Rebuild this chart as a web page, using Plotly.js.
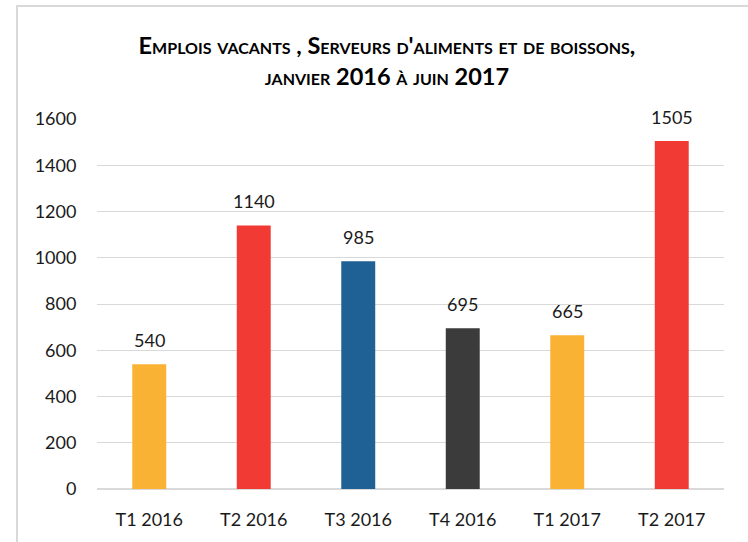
<!DOCTYPE html>
<html>
<head>
<meta charset="utf-8">
<script src="https://cdn.plot.ly/plotly-3.0.1.min.js"></script>
<style>html,body{margin:0;padding:0;background:#fff;}#chart{width:748px;height:542px;}</style>
</head>
<body>
<div id="chart"></div>
<script>
const categories = ['T1 2016', 'T2 2016', 'T3 2016', 'T4 2016', 'T1 2017', 'T2 2017'];
const values = [540, 1140, 985, 695, 665, 1505];
const barColors = ['#F9B233', '#F03A33', '#1F6195', '#3B3B3B', '#F9B233', '#F03A33'];
const yTicks = [0, 200, 400, 600, 800, 1000, 1200, 1400, 1600];
const titleText = "Emplois vacants , Serveurs d'aliments et de boissons,<br>janvier 2016 à juin 2017";

const FONT = 'Lato, "Open Sans", sans-serif';

const trace = {
  type: 'bar',
  x: categories,
  y: values,
  marker: {color: barColors},
  hoverinfo: 'none'
};

const annotations = categories.map((c, i) => ({
  x: c, y: values[i], xref: 'x', yref: 'y',
  text: String(values[i]), showarrow: false,
  yanchor: 'bottom', yshift: 11,
  font: {family: FONT, size: 18, color: '#1a1a1a'}
}));

const layout = {
  width: 748, height: 542,
  margin: {l: 97, r: 24, t: 119, b: 53},
  paper_bgcolor: '#fff', plot_bgcolor: '#fff',
  bargap: 0.675,
  showlegend: false,
  title: {
    text: titleText,
    x: 0.4625, xanchor: 'center', xref: 'paper',
    y: 0.9, yanchor: 'middle', yref: 'container',
    font: {family: FONT, size: 23.5, color: '#000', weight: 'bold', variant: 'small-caps'}
  },
  xaxis: {
    type: 'category',
    showgrid: false,
    showline: false,
    ticks: 'outside', ticklen: 14, tickcolor: 'rgba(0,0,0,0)',
    tickfont: {family: FONT, size: 18, color: '#1a1a1a'}
  },
  yaxis: {
    range: [0, 1600],
    tickvals: yTicks,
    ticktext: yTicks.map(String),
    showgrid: true, gridcolor: '#d9d9d9', gridwidth: 1,
    zeroline: true, zerolinecolor: '#d9d9d9', zerolinewidth: 2,
    showline: false,
    ticks: 'outside', ticklen: 16, tickcolor: 'rgba(0,0,0,0)',
    tickfont: {family: FONT, size: 18, color: '#1a1a1a'}
  },
  annotations: annotations,
  shapes: [{
    type: 'rect', xref: 'paper', yref: 'paper',
    x0: (17 - 97) / 627, x1: (760 - 97) / 627,
    y0: (489 - 560) / 370, y1: (489 - 6) / 370,
    line: {color: '#d9d9d9', width: 2}, fillcolor: 'rgba(0,0,0,0)', layer: 'below'
  }]
};

Plotly.newPlot('chart', [trace], layout, {displayModeBar: false, staticPlot: true});
</script>
</body>
</html>
